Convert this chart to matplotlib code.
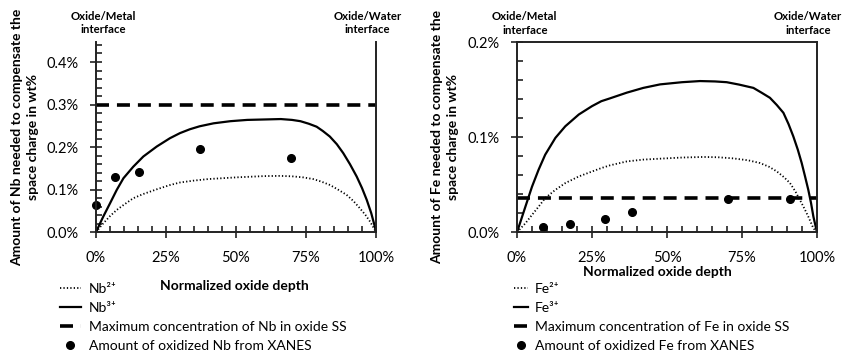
import matplotlib
matplotlib.use('Agg')
import matplotlib.pyplot as plt
from matplotlib.ticker import MultipleLocator, FuncFormatter

plt.rcParams['font.family'] = ['Lato', 'DejaVu Sans']

# ---- Nb panel (depth in %, amount in wt%) ----
nb3_depth = [0, 1.3, 2.6, 5.0, 7.4, 9.8, 13.3, 16.9, 21.7, 26.4, 30.0, 33.5, 37.0, 42.0,
             48.0, 54.0, 60.0, 66.0, 70.0, 73.0, 76.0, 78.8, 81.0, 83.5, 86.0, 88.3, 90.7,
             93.1, 95.0, 96.7, 98.3, 99.6, 100]
nb3_val = [0, 0.019, 0.037, 0.068, 0.0995, 0.127, 0.154, 0.178, 0.2015, 0.221, 0.233, 0.242,
           0.249, 0.256, 0.261, 0.264, 0.265, 0.266, 0.264, 0.261, 0.255, 0.248, 0.238,
           0.225, 0.207, 0.186, 0.160, 0.131, 0.104, 0.076, 0.045, 0.013, 0]
nb2_depth = [0, 1.3, 2.6, 5.0, 7.4, 9.8, 13.3, 16.9, 21.7, 26.4, 30.0, 35.0, 40.0, 50.0,
             60.0, 65.7, 70.0, 74.0, 77.6, 80.5, 83.6, 86.5, 89.5, 92.0, 94.3, 96.2, 97.9,
             99.2, 100]
nb2_val = [0, 0.011, 0.021, 0.038, 0.0525, 0.064, 0.080, 0.090, 0.101, 0.111, 0.117, 0.1215,
           0.125, 0.129, 0.132, 0.1325, 0.1315, 0.129, 0.125, 0.119, 0.111, 0.100, 0.088,
           0.073, 0.056, 0.041, 0.025, 0.010, 0]
nb_max = 0.298
nb_xanes_depth = [0, 6.8, 15.5, 37.0, 69.6]
nb_xanes_val = [0.064, 0.129, 0.142, 0.195, 0.174]

# ---- Fe panel ----
fe3_depth = [0, 1.4, 2.8, 5.0, 7.2, 9.4, 12.8, 16.1, 20.6, 25.0, 28.1, 31.0, 36.6, 42.1,
             47.7, 55.0, 61.0, 66.0, 69.9, 74.0, 78.8, 81.5, 84.3, 86.6, 88.8, 90.5, 92.1,
             93.6, 94.9, 96.0, 97.1, 98.0, 98.8, 100]
fe3_val = [0, 0.0135, 0.027, 0.048, 0.0659, 0.0817, 0.0994, 0.1116, 0.124, 0.1328, 0.138,
           0.141, 0.147, 0.152, 0.1557, 0.158, 0.1592, 0.1588, 0.158, 0.1555, 0.152, 0.147,
           0.1416, 0.134, 0.1258, 0.114, 0.101, 0.087, 0.0729, 0.059, 0.0447, 0.031,
           0.0165, 0]
fe2_depth = [0, 1.4, 2.8, 5.0, 7.2, 9.4, 12.8, 16.1, 20.6, 25.0, 28.1, 31.0, 36.6, 42.0,
             47.7, 55.0, 62.1, 67.0, 72.1, 77.0, 81.0, 84.0, 86.6, 89.0, 91.0, 92.8, 94.3,
             95.8, 97.1, 98.0, 98.8, 100]
fe2_val = [0, 0.0048, 0.0095, 0.0183, 0.027, 0.036, 0.0447, 0.0518, 0.0588, 0.064, 0.0676,
           0.0705, 0.0746, 0.0765, 0.0775, 0.0787, 0.0793, 0.079, 0.0778, 0.0758, 0.0729,
           0.069, 0.0641, 0.058, 0.0518, 0.043, 0.0341, 0.025, 0.0165, 0.010, 0.0042, 0]
fe_max = 0.036
fe_xanes_depth = [8.8, 17.7, 29.3, 38.2, 70.4, 91.0]
fe_xanes_val = [0.0053, 0.0088, 0.0141, 0.0218, 0.0350, 0.0350]

fig = plt.figure(figsize=(8.42, 3.59), dpi=100)
ax1 = fig.add_axes([96 / 842, 1 - 232.3 / 359, 280 / 842, 190.3 / 359])
ax2 = fig.add_axes([517 / 842, 1 - 232.3 / 359, 300 / 842, 190.0 / 359])

dash = (0, (3.6, 2.2))
dots = (0, (0.7, 1.2))


def style_axis(ax, ymax, ymajor, ylabel, ylab_x, xlab_x, xlab_y):
    ax.set_xlim(0, 100)
    ax.set_ylim(0, ymax)
    ax.xaxis.set_major_locator(MultipleLocator(25))
    ax.xaxis.set_minor_locator(MultipleLocator(5))
    ax.yaxis.set_major_locator(MultipleLocator(ymajor))
    ax.yaxis.set_minor_locator(MultipleLocator(0.02))
    ax.xaxis.set_major_formatter(FuncFormatter(lambda v, p: '{:.0f}%'.format(v)))
    ax.yaxis.set_major_formatter(FuncFormatter(lambda v, p: '{:.1f}%'.format(v)))
    ax.tick_params(which='major', direction='inout', length=9, width=1.2, labelsize=10.5,
                   color='#222222')
    ax.tick_params(which='minor', direction='in', length=4, width=1.2, color='#222222')
    ax.tick_params(axis='x', which='major', pad=9)
    ax.tick_params(axis='y', which='major', pad=8)
    for s in ax.spines.values():
        s.set_linewidth(1.4)
        s.set_color('#222222')
    ax.set_ylabel(ylabel, fontsize=10, fontweight='bold', va='center', linespacing=1.4)
    ax.yaxis.set_label_coords(ylab_x, 0.5)
    ax.set_xlabel('Normalized oxide depth', fontsize=10, fontweight='bold', va='center')
    ax.xaxis.set_label_coords(xlab_x, xlab_y)
    ax.text(2.6, 1.1, 'Oxide/Metal\ninterface', transform=ax.get_xaxis_transform(),
            ha='center', va='center', fontsize=8.2, fontweight='bold', linespacing=1.3)
    ax.text(97, 1.1, 'Oxide/Water\ninterface', transform=ax.get_xaxis_transform(),
            ha='center', va='center', fontsize=8.2, fontweight='bold', linespacing=1.3)


# Nb panel
ax1.plot(nb2_depth, nb2_val, color='black', lw=1.3, ls=dots, label='Nb²⁺')
ax1.plot(nb3_depth, nb3_val, color='black', lw=1.6, label='Nb³⁺')
ax1.axhline(nb_max, color='black', lw=2.6, ls=dash,
            label='Maximum concentration of Nb in oxide SS')
ax1.plot(nb_xanes_depth, nb_xanes_val, 'o', color='black', ms=5.5, clip_on=False,
         label='Amount of oxidized Nb from XANES')
style_axis(ax1, 0.447, 0.1,
           'Amount of Nb needed to compensate the\nspace charge in wt%',
           -0.254, 0.493, -0.281)
ax1.spines['top'].set_visible(False)
ax1.legend(loc='upper left', bbox_to_anchor=(60 / 842, 1 - 283 / 359),
           bbox_transform=fig.transFigure, frameon=False, fontsize=10, borderpad=0,
           borderaxespad=0, handlelength=1.5, handletextpad=0.6, labelspacing=0.5,
           numpoints=1)

# Fe panel
ax2.plot(fe2_depth, fe2_val, color='black', lw=1.3, ls=dots, label='Fe²⁺')
ax2.plot(fe3_depth, fe3_val, color='black', lw=1.6, label='Fe³⁺')
ax2.axhline(fe_max, color='black', lw=2.6, ls=dash,
            label='Maximum concentration of Fe in oxide SS')
ax2.plot(fe_xanes_depth, fe_xanes_val, 'o', color='black', ms=5.5, clip_on=False,
         label='Amount of oxidized Fe from XANES')
style_axis(ax2, 0.2, 0.1,
           'Amount of Fe needed to compensate the\nspace charge in wt%',
           -0.24, 0.469, -0.209)
ax2.legend(loc='upper left', bbox_to_anchor=(514 / 842, 1 - 283 / 359),
           bbox_transform=fig.transFigure, frameon=False, fontsize=10, borderpad=0,
           borderaxespad=0, handlelength=1.0, handletextpad=0.5, labelspacing=0.5,
           numpoints=1)

fig.savefig('out.png', dpi=100)
